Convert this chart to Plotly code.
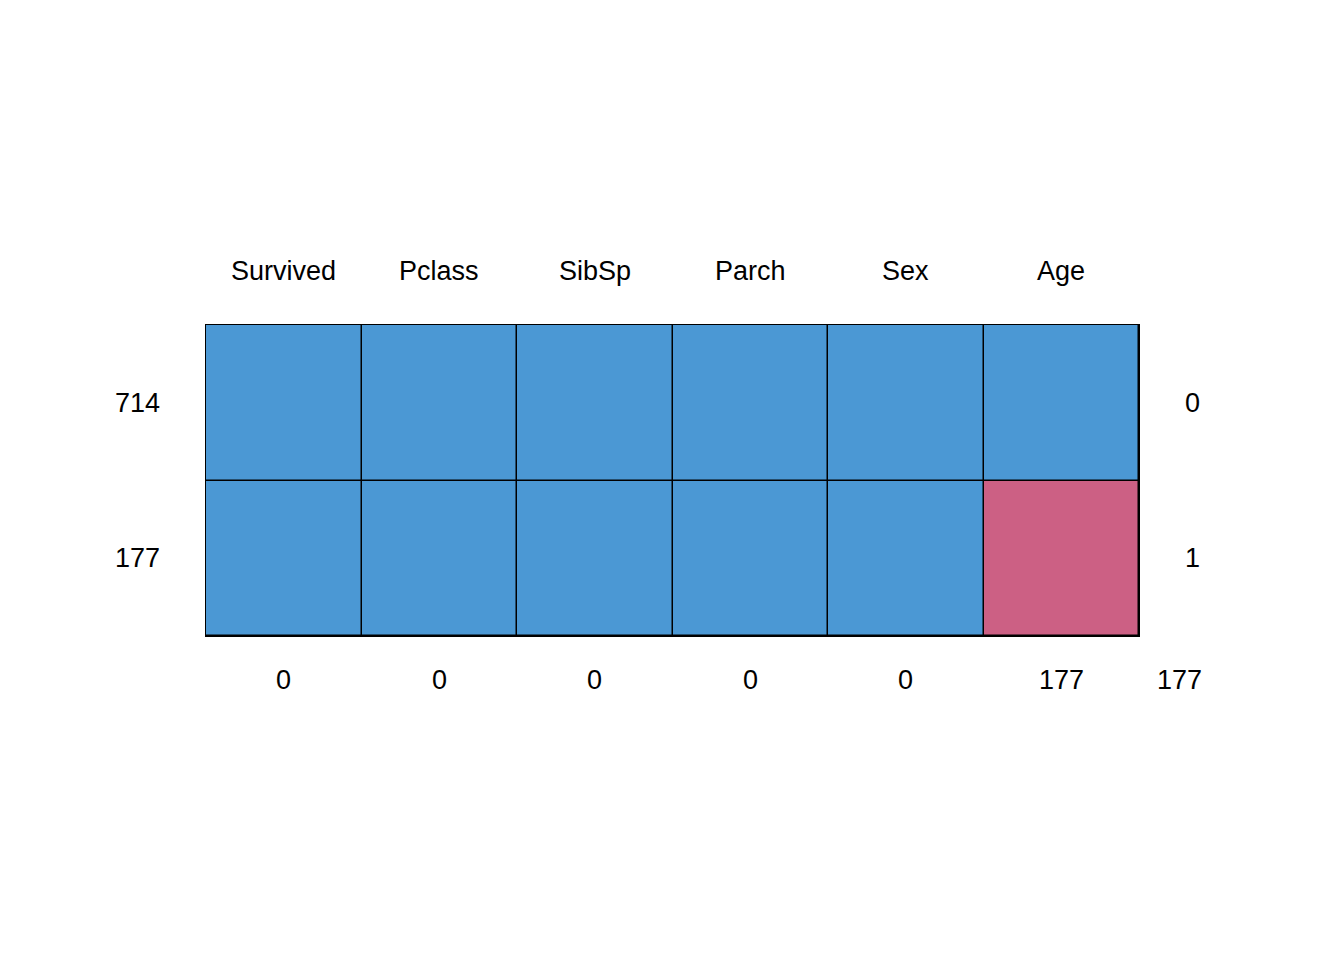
import plotly.graph_objects as go

variables = ["Survived", "Pclass", "SibSp", "Parch", "Sex", "Age"]
row_counts = ["714", "177"]
row_missing = ["0", "1"]
col_missing = ["0", "0", "0", "0", "0", "177"]
total_missing = "177"
pattern = [[1, 1, 1, 1, 1, 1],
           [1, 1, 1, 1, 1, 0]]

blue = "#4B98D4"
pink = "#CC6084"
font = dict(family="Liberation Sans, Arial, sans-serif", size=27, color="black")

fig = go.Figure(go.Heatmap(
    z=pattern, x=list(range(len(variables))), y=list(range(len(row_counts))),
    colorscale=[[0, pink], [1, blue]], zmin=0, zmax=1, showscale=False,
    xgap=1.5, ygap=1.5, hoverinfo="skip"))

ann = []
for i, v in enumerate(variables):
    ann.append(dict(x=i, y=1, xref="x", yref="paper", text=v, showarrow=False, yshift=71, font=font))
    ann.append(dict(x=i, y=0, xref="x", yref="paper", text=col_missing[i], showarrow=False, yshift=-61, font=font))
for j, c in enumerate(row_counts):
    ann.append(dict(x=0, y=j, xref="paper", yref="y", text=c, showarrow=False, xshift=-93, font=font))
    ann.append(dict(x=1, y=j, xref="paper", yref="y", text=row_missing[j], showarrow=False, xshift=63, font=font))
ann.append(dict(x=1, y=0, xref="paper", yref="paper", text=total_missing, showarrow=False, xshift=65, yshift=-61, font=font))

fig.update_layout(
    width=1344, height=960, margin=dict(l=198, r=213, t=317, b=332),
    plot_bgcolor="black", paper_bgcolor="white", annotations=ann,
    xaxis=dict(range=[-0.5, 5.5], showticklabels=False, showgrid=False, zeroline=False,
               showline=True, mirror=True, linecolor="black", linewidth=1),
    yaxis=dict(range=[1.5, -0.5], showticklabels=False, showgrid=False, zeroline=False,
               showline=True, mirror=True, linecolor="black", linewidth=1),
)
fig.write_html("out.html")
